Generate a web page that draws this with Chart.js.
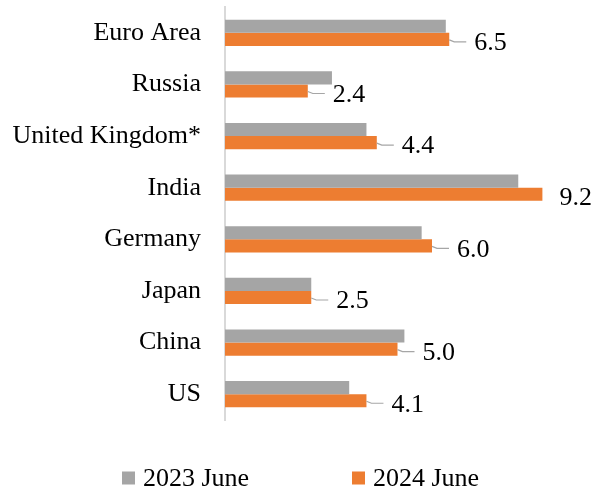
<!DOCTYPE html>
<html>
<head>
<meta charset="utf-8">
<script src="https://cdn.jsdelivr.net/npm/chart.js@4.4.1/dist/chart.umd.min.js"></script>
<style>
  html, body { margin: 0; padding: 0; background: #ffffff; }
  #wrap { width: 596px; height: 493px; }
</style>
</head>
<body>
<div id="wrap"><canvas id="c" width="596" height="493"></canvas></div>
<script>
const categories = ["Euro Area", "Russia", "United Kingdom*", "India", "Germany", "Japan", "China", "US"];
const seriesNames = ["2023 June", "2024 June"];
const june2023 = [6.4, 3.1, 4.1, 8.5, 5.7, 2.5, 5.2, 3.6];
const june2024 = [6.5, 2.4, 4.4, 9.2, 6.0, 2.5, 5.0, 4.1];

const FONT = "'Times New Roman', 'Liberation Serif', serif";
const GRAY = '#a5a5a5';
const ORANGE = '#ed7d31';

const labelPlugin = {
  id: 'leaderLabels',
  afterDatasetsDraw(chart) {
    const ctx = chart.ctx;
    const meta = chart.getDatasetMeta(1);
    const data = chart.data.datasets[1].data;
    ctx.save();
    ctx.font = '26px ' + FONT;
    ctx.textBaseline = 'middle';
    ctx.textAlign = 'left';
    meta.data.forEach((bar, i) => {
      const txt = Number(data[i]).toFixed(1);
      const w = ctx.measureText(txt).width;
      let tx = bar.x + 25;
      if (tx + w > chart.width - 4) tx = chart.width - 4 - w;
      const y = bar.y;
      if (tx - bar.x > 20) {
        ctx.strokeStyle = '#a6a6a6';
        ctx.lineWidth = 1.2;
        ctx.beginPath();
        ctx.moveTo(bar.x, y + 0.5);
        ctx.lineTo(bar.x + 5, y + 2.5);
        ctx.lineTo(tx - 8, y + 2.5);
        ctx.stroke();
      }
      ctx.fillStyle = '#000000';
      ctx.fillText(txt, tx, y + 4);
    });
    ctx.restore();
  }
};

const legendPlugin = {
  id: 'customLegend',
  afterDraw(chart) {
    const ctx = chart.ctx;
    const xs = [122, 352];
    const cy = 478;
    ctx.save();
    ctx.font = '26px ' + FONT;
    ctx.textBaseline = 'middle';
    ctx.textAlign = 'left';
    chart.data.datasets.forEach((ds, i) => {
      ctx.fillStyle = ds.backgroundColor;
      ctx.fillRect(xs[i], cy - 6.5, 13, 13);
      ctx.fillStyle = '#000000';
      ctx.fillText(ds.label, xs[i] + 21, cy + 1);
    });
    ctx.restore();
  }
};

new Chart(document.getElementById('c'), {
  type: 'bar',
  data: {
    labels: categories,
    datasets: [
      { label: seriesNames[0], data: june2023, backgroundColor: GRAY, categoryPercentage: 0.51, barPercentage: 1.0 },
      { label: seriesNames[1], data: june2024, backgroundColor: ORANGE, categoryPercentage: 0.51, barPercentage: 1.0 }
    ]
  },
  options: {
    indexAxis: 'y',
    responsive: false,
    animation: false,
    events: [],
    layout: { padding: { top: 7, right: 26, bottom: 73, left: 0 } },
    plugins: { legend: { display: false }, tooltip: { enabled: false } },
    scales: {
      x: { display: false, min: 0, max: 10 },
      y: {
        afterFit(scale) { scale.width = 225; scale.paddingTop = 0; scale.paddingBottom = 0; },
        grid: { display: false, drawTicks: false },
        border: { display: true, color: '#d9d9d9', width: 2 },
        ticks: { color: '#000000', font: { family: FONT, size: 26 }, padding: 24 }
      }
    }
  },
  plugins: [labelPlugin, legendPlugin]
});
</script>
</body>
</html>
